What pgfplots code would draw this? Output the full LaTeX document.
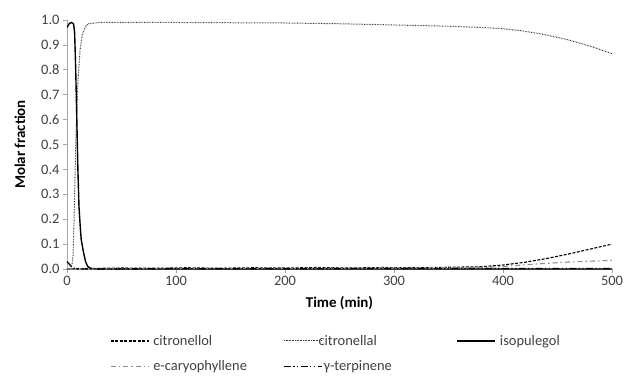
\documentclass[border=0pt]{standalone}
\usepackage{pgfplots}
\pgfplotsset{compat=1.18}
\usepackage{fontspec}
\setmainfont{Carlito}
\definecolor{axgray}{HTML}{A6A6A6}
\definecolor{txgray}{HTML}{404040}
\definecolor{cargray}{HTML}{8C8C8C}
\newcommand\lf{\fontsize{14.5}{16}\selectfont\color{txgray}}
\begin{document}
\begin{tikzpicture}
\path[use as bounding box] (-67bp,-107bp) rectangle (559bp,269bp);
\begin{axis}[
  at={(0,0)}, anchor=south west,
  scale only axis, width=545bp, height=249bp,
  xmin=0, xmax=500, ymin=0, ymax=1,
  xtick={0,100,...,500}, ytick={0,0.1,...,1.0},
  axis lines*=left,
  axis line style={axgray, line width=0.8pt},
  tick style={axgray, line width=0.8pt},
  tick align=outside, major tick length=4bp,
  /pgf/number format/assume math mode=true,
  yticklabel style={/pgf/number format/fixed, /pgf/number format/fixed zerofill, /pgf/number format/precision=1, font=\fontsize{14.5}{16}\selectfont, text=txgray},
  xticklabel style={font=\fontsize{14.5}{16}\selectfont, text=txgray},
  xlabel={\textbf{Time (min)}},
  ylabel={\textbf{Molar fraction}},
  every axis x label/.style={at={(axis description cs:0.5,0)}, anchor=center, yshift=-34bp, font=\fontsize{15}{17}\selectfont, text=black},
  every axis y label/.style={at={(axis description cs:0,0.5)}, xshift=-47bp, anchor=center, rotate=90, font=\fontsize{15}{17}\selectfont, text=black},
  legend columns=3,
  legend style={draw=none, at={(axis description cs:0,0)}, anchor=north west, xshift=40bp, yshift=-62bp,
    nodes={text width=126bp, inner xsep=4bp, inner ysep=2bp}, column sep=0pt, row sep=10bp},
  legend cell align=left,
  legend image code/.code={\draw[#1] (0cm,0cm) -- (38bp,0cm);},
]
\addplot[black, line width=1.1pt, dash pattern=on 3pt off 1.5pt] coordinates {
(0,0) (20,0.002) (50,0.004) (80,0.003) (110,0.005) (140,0.003) (170,0.005) (200,0.004) (230,0.006) (260,0.004) (290,0.006) (320,0.005) (350,0.007) (380,0.009) (400,0.016) (420,0.027) (440,0.042) (460,0.06) (480,0.08) (500,0.1)};
\addlegendentry{\lf citronellol}
\addplot[black!80, line width=1pt, dash pattern=on 0.7pt off 0.9pt] coordinates {
(0,0) (4,0) (5.5,0.05) (6.5,0.2) (8,0.5) (10,0.75) (12,0.88) (14,0.94) (17,0.975) (20,0.985) (30,0.99) (100,0.99) (200,0.988) (250,0.985) (300,0.98) (350,0.975) (380,0.97) (400,0.965) (420,0.955) (440,0.94) (460,0.92) (480,0.895) (500,0.865)};
\addlegendentry{\lf\hspace{-8bp}citronellal}
\addplot[black, line width=1.4pt] coordinates {
(0,0.97) (2,0.985) (4,0.99) (6,0.985) (7,0.95) (8,0.8) (9,0.6) (10,0.4) (11,0.25) (12,0.18) (13,0.12) (15,0.07) (17,0.03) (19,0.01) (22,0.002) (30,0) (500,0)};
\addlegendentry{\lf isopulegol}
\addplot[cargray, line width=1.1pt, dash pattern=on 5pt off 3pt on 1.5pt off 3pt] coordinates {
(0,0) (100,0.002) (200,0.003) (300,0.004) (380,0.006) (400,0.01) (430,0.02) (460,0.028) (500,0.035)};
\addlegendentry{\lf e-caryophyllene}
\addplot[black, line width=1.3pt, dash pattern=on 7pt off 2.5pt on 1.2pt off 2.5pt on 1.2pt off 2.5pt] coordinates {
(0,0.03) (2,0.02) (4,0.01) (6,0.004) (10,0) (100,0.001) (200,0.001) (300,0.002) (400,0.002) (500,0.002)};
\addlegendentry{\lf\hspace{-3bp}γ-terpinene}
\end{axis}
\end{tikzpicture}
\end{document}
